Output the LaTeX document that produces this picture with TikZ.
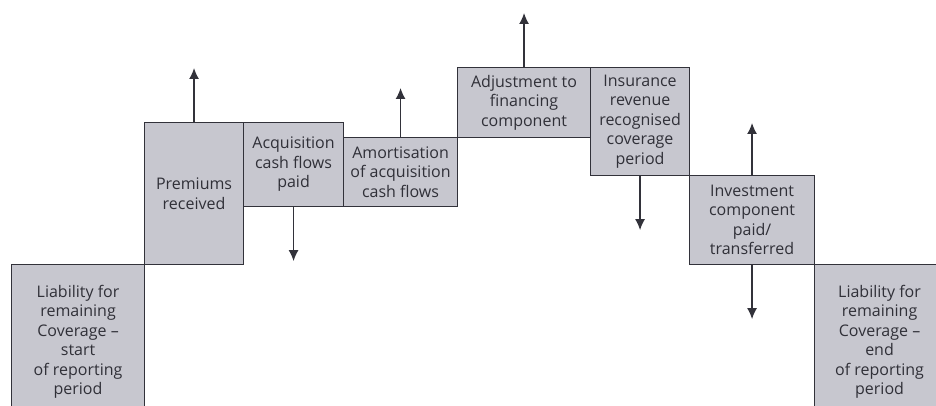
\documentclass[tikz,border=0pt]{standalone}
\usepackage{fontspec}
\setmainfont{Open Sans}
\usetikzlibrary{arrows.meta}
\definecolor{boxfill}{RGB}{199,199,207}
\definecolor{boxline}{RGB}{50,50,58}
\definecolor{boxtext}{RGB}{48,48,56}
\begin{document}
\begin{tikzpicture}[x=1pt,y=-1pt,
		stepbox/.style={draw=boxline,fill=boxfill,line width=1.1pt,anchor=north west,inner sep=0pt,align=center,text=boxtext,font=\fontsize{16}{19.5}\selectfont},
		flow/.style={draw=boxline,line width=1.3pt,-{Latex[length=11pt,width=10pt]}}]
		\useasboundingbox (0,0) rectangle (936,406);
		
		\node[stepbox,minimum width=133pt,minimum height=154pt] (start) at (11,264) {Liability for\\remaining\\Coverage \textendash\\start\\of reporting\\period};
		\node[stepbox,minimum width=99pt,minimum height=142pt] (prem) at (144,122) {Premiums\\received};
		\node[stepbox,minimum width=100pt,minimum height=84pt] (acq) at (243,122) {Acquisition\\cash flows\\paid};
		\node[stepbox,minimum width=114pt,minimum height=69pt] (amort) at (343,137) {Amortisation\\of acquisition\\cash flows};
		\node[stepbox,minimum width=133pt,minimum height=70pt] (adjust) at (457,67) {Adjustment to\\financing\\component};
		\node[stepbox,minimum width=99pt,minimum height=108pt] (revenue) at (590,67) {Insurance\\revenue\\recognised\\coverage\\period};
		\node[stepbox,minimum width=125pt,minimum height=89pt] (invest) at (689,175) {Investment\\component\\paid/\\transferred};
		\node[stepbox,minimum width=130pt,minimum height=154pt] (end) at (814,264) {Liability for\\remaining\\Coverage \textendash\\end\\of reporting\\period};
		
		\coordinate (premtip) at ([yshift=54pt]prem.north);
		\coordinate (acqtip) at ([yshift=-54pt]acq.south);
		\coordinate (amorttip) at ([yshift=49pt]amort.north);
		\coordinate (adjusttip) at ([yshift=54pt]adjust.north);
		\coordinate (revenuetip) at ([yshift=-54pt]revenue.south);
		\coordinate (investup) at ([yshift=52pt]invest.north);
		\coordinate (investdown) at ([yshift=-54pt]invest.south);
		
		\draw[flow] (prem.north) -- (premtip);
		\draw[flow] (acq.south) -- (acqtip);
		\draw[flow] (amort.north) -- (amorttip);
		\draw[flow] (adjust.north) -- (adjusttip);
		\draw[flow] (revenue.south) -- (revenuetip);
		\draw[flow] (invest.north) -- (investup);
		\draw[flow] (invest.south) -- (investdown);
\end{tikzpicture}
\end{document}
